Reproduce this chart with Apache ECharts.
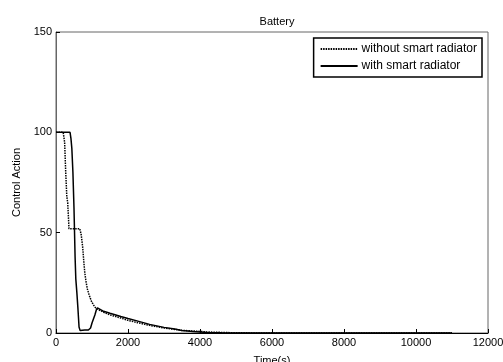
<!DOCTYPE html>
<html>
<head>
<meta charset="utf-8">
<script src="https://cdn.jsdelivr.net/npm/echarts@6/dist/echarts.min.js"></script>
<style>
  html, body { margin: 0; padding: 0; background: #fff; }
  #chart { width: 503px; height: 362px; }
</style>
</head>
<body>
<div id="chart"></div>
<script>
// 读图得到的数据 (时间 s, 控制量)
const timeWithout = [0, 200, 240, 270, 300, 325, 345, 360, 380, 500, 660, 700, 740, 770, 800, 830, 870, 920, 980, 1040, 1100, 1150, 1300, 1500, 1800, 2000, 2300, 2600, 3000, 3300, 3500, 3800, 4000, 4200, 4600, 5000, 6000, 8000, 10000, 11000]
const valWithout = [100, 100, 95, 80, 68, 65, 58, 52, 52, 52, 52, 49, 43, 36, 30, 26, 22, 19, 16, 14, 12.5, 12, 10.5, 9, 7.5, 6.3, 5, 3.8, 2.5, 1.8, 1.3, 1, 0.8, 0.5, 0.3, 0.1, 0, 0, 0, 0]
const timeWith = [0, 390, 415, 440, 470, 500, 530, 550, 580, 610, 640, 670, 700, 800, 900, 960, 1000, 1040, 1080, 1120, 1150, 1300, 1500, 1800, 2000, 2300, 2600, 3000, 3300, 3500, 3800, 4000, 4200, 4600, 5000, 6000, 8000, 10000, 11000]
const valWith = [100, 100, 97, 92, 80, 62, 38, 27, 20, 12, 3, 1.2, 1.2, 1.5, 1.5, 2.5, 5, 7, 9, 11.5, 12.5, 11, 9.8, 8.2, 7.2, 5.8, 4.3, 2.8, 2, 1.3, 0.8, 0.5, 0.3, 0.1, 0, 0, 0, 0, 0]
const seriesNames = ['without smart radiator', 'with smart radiator']
const xTicks = { min: 0, max: 12000, step: 2000 }
const yTicks = { min: 0, max: 150, step: 50 }

function pairs (xs, ys) {
  return xs.map((x, i) => [x, ys[i]])
}

let myChart = echarts.init(document.getElementById('chart'))
let font = 'Liberation Sans, Arial, sans-serif'
let option = {
  animation: false,
  backgroundColor: '#fff',
  textStyle: { fontFamily: font },
  title: {
    text: 'Battery',
    left: 272,
    textAlign: 'center',
    top: 11,
    textStyle: { fontSize: 11, fontWeight: 'normal', color: '#000', fontFamily: font }
  },
  legend: {
    data: seriesNames,
    orient: 'vertical',
    right: 21,
    top: 38,
    padding: [5, 5, 5, 6],
    itemGap: 5,
    itemWidth: 37,
    itemHeight: 12,
    backgroundColor: '#fff',
    borderColor: '#000',
    borderWidth: 1.5,
    borderRadius: 0,
    itemStyle: { opacity: 0 },
    textStyle: { fontSize: 12, color: '#000', fontFamily: font, padding: [0, 0, 0, -1] }
  },
  grid: {
    left: 56,
    right: 15,
    top: 32,
    bottom: 29,
    outerBoundsMode: 'none',
    containLabel: false,
    show: true,
    borderColor: '#666',
    borderWidth: 1
  },
  xAxis: {
    type: 'value',
    min: xTicks.min,
    max: xTicks.max,
    interval: xTicks.step,
    name: 'Time(s)',
    nameLocation: 'middle',
    nameGap: 22,
    nameTextStyle: { fontSize: 11, color: '#000', fontFamily: font },
    axisLine: { lineStyle: { color: '#000', width: 1 } },
    axisTick: { inside: true, length: 4, lineStyle: { color: '#000' } },
    axisLabel: { fontSize: 11, color: '#000', margin: 4, fontFamily: font, formatter: v => String(v) },
    splitLine: { show: false }
  },
  yAxis: {
    type: 'value',
    min: yTicks.min,
    max: yTicks.max,
    interval: yTicks.step,
    name: 'Control Action',
    nameLocation: 'middle',
    nameGap: 32,
    nameTextStyle: { fontSize: 11, color: '#000', fontFamily: font },
    axisLine: { show: true, lineStyle: { color: '#666', width: 1 } },
    axisTick: { show: true, inside: true, length: 4, lineStyle: { color: '#000' } },
    axisLabel: { fontSize: 11, color: '#000', margin: 4, fontFamily: font, formatter: v => String(v) },
    splitLine: { show: false }
  },
  series: [{
    name: seriesNames[0],
    type: 'line',
    symbol: 'none',
    data: pairs(timeWithout, valWithout),
    lineStyle: { color: '#000', width: 1.5, type: [1.5, 1] },
    itemStyle: { color: '#000' },
    z: 2
  }, {
    name: seriesNames[1],
    type: 'line',
    symbol: 'none',
    data: pairs(timeWith, valWith),
    lineStyle: { color: '#000', width: 1.5 },
    itemStyle: { color: '#000' },
    z: 3
  }]
}
myChart.setOption(option)
</script>
</body>
</html>
